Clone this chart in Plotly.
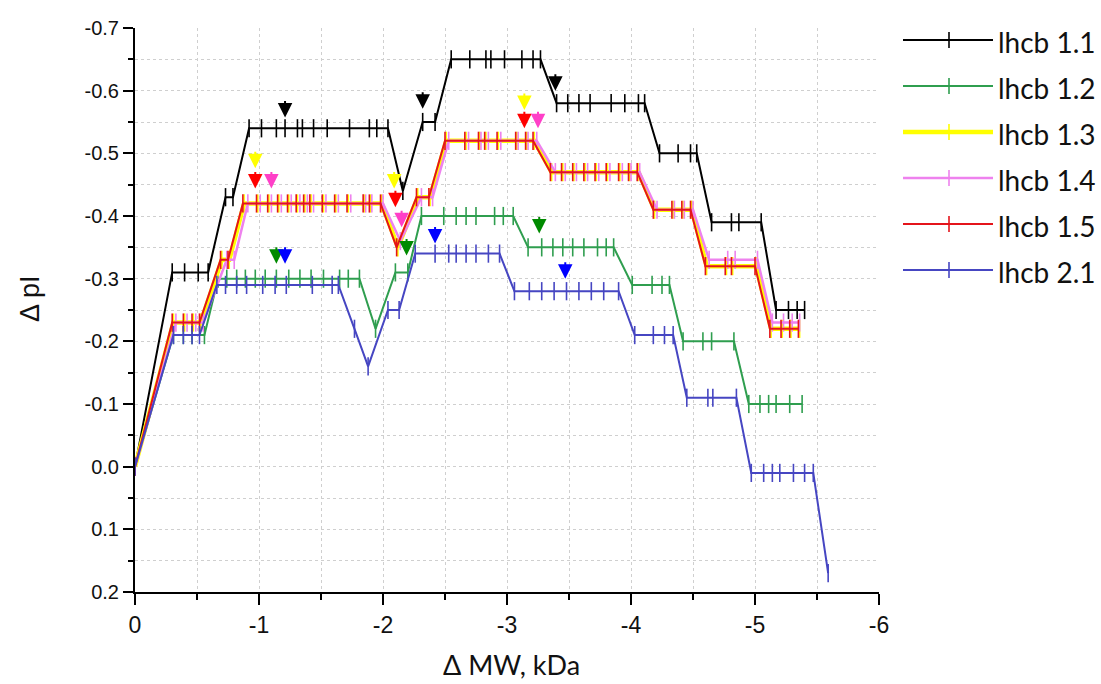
import plotly.graph_objects as go

# ---- series data: ΔMW (kDa) vs ΔpI ----
names = ["lhcb 1.1", "lhcb 1.2", "lhcb 1.3", "lhcb 1.4", "lhcb 1.5", "lhcb 2.1"]

x_11 = [0, -0.30, -0.40, -0.51, -0.59, -0.73, -0.79, -0.92, -1.02, -1.14, -1.21, -1.31, -1.35,
        -1.44, -1.55, -1.73, -1.89, -1.95, -2.04, -2.16, -2.32, -2.42, -2.55, -2.70, -2.83,
        -2.87, -2.98, -3.12, -3.21, -3.27, -3.40, -3.49, -3.58, -3.67, -3.84, -3.95, -4.06,
        -4.11, -4.23, -4.38, -4.48, -4.53, -4.65, -4.81, -4.87, -5.05, -5.17, -5.27, -5.34, -5.40]
y_11 = [0, -0.31, -0.31, -0.31, -0.31, -0.43, -0.43, -0.54, -0.54, -0.54, -0.54, -0.54, -0.54,
        -0.54, -0.54, -0.54, -0.54, -0.54, -0.54, -0.44, -0.55, -0.55, -0.65, -0.65, -0.65,
        -0.65, -0.65, -0.65, -0.65, -0.65, -0.58, -0.58, -0.58, -0.58, -0.58, -0.58, -0.58,
        -0.58, -0.50, -0.50, -0.50, -0.50, -0.39, -0.39, -0.39, -0.39, -0.25, -0.25, -0.25, -0.25]

x_12 = [0, -0.31, -0.39, -0.46, -0.56, -0.67, -0.74, -0.82, -0.89, -0.97, -1.05, -1.14, -1.24,
        -1.33, -1.42, -1.52, -1.65, -1.72, -1.81, -1.94, -2.10, -2.20, -2.31, -2.49, -2.59,
        -2.67, -2.75, -2.90, -2.97, -3.05, -3.17, -3.28, -3.37, -3.45, -3.53, -3.62, -3.73,
        -3.80, -3.86, -4.01, -4.17, -4.25, -4.31, -4.42, -4.58, -4.65, -4.83, -4.95, -5.04,
        -5.11, -5.17, -5.28, -5.38]
y_12 = [0, -0.21, -0.21, -0.21, -0.21, -0.30, -0.30, -0.30, -0.30, -0.30, -0.30, -0.30, -0.30,
        -0.30, -0.30, -0.30, -0.30, -0.30, -0.30, -0.22, -0.31, -0.31, -0.40, -0.40, -0.40,
        -0.40, -0.40, -0.40, -0.40, -0.40, -0.35, -0.35, -0.35, -0.35, -0.35, -0.35, -0.35,
        -0.35, -0.35, -0.29, -0.29, -0.29, -0.29, -0.20, -0.20, -0.20, -0.20, -0.10, -0.10,
        -0.10, -0.10, -0.10, -0.10]

x_13 = [0, -0.31, -0.40, -0.47, -0.53, -0.70, -0.76, -0.88, -0.99, -1.08, -1.16, -1.24, -1.31,
        -1.37, -1.42, -1.52, -1.62, -1.72, -1.85, -1.90, -1.99, -2.12, -2.28, -2.38, -2.51,
        -2.67, -2.78, -2.83, -2.93, -3.08, -3.16, -3.22, -3.36, -3.45, -3.54, -3.63, -3.72,
        -3.81, -3.91, -3.99, -4.06, -4.19, -4.34, -4.42, -4.49, -4.61, -4.77, -4.82, -5.01,
        -5.13, -5.22, -5.29, -5.36]
y_13 = [0, -0.23, -0.23, -0.23, -0.23, -0.33, -0.33, -0.42, -0.42, -0.42, -0.42, -0.42, -0.42,
        -0.42, -0.42, -0.42, -0.42, -0.42, -0.42, -0.42, -0.42, -0.35, -0.43, -0.43, -0.52,
        -0.52, -0.52, -0.52, -0.52, -0.52, -0.52, -0.52, -0.47, -0.47, -0.47, -0.47, -0.47,
        -0.47, -0.47, -0.47, -0.47, -0.41, -0.41, -0.41, -0.41, -0.32, -0.32, -0.32, -0.32,
        -0.22, -0.22, -0.22, -0.22]

x_14 = [0, -0.33, -0.42, -0.49, -0.55, -0.74, -0.80, -0.91, -1.01, -1.10, -1.18, -1.26, -1.33,
        -1.39, -1.44, -1.54, -1.64, -1.74, -1.86, -1.91, -2.00, -2.14, -2.31, -2.40, -2.53,
        -2.69, -2.79, -2.85, -2.95, -3.09, -3.17, -3.24, -3.39, -3.47, -3.56, -3.65, -3.74,
        -3.83, -3.93, -4.00, -4.07, -4.21, -4.35, -4.43, -4.50, -4.63, -4.78, -4.84, -5.02,
        -5.14, -5.23, -5.30, -5.36]
y_14 = [0, -0.23, -0.23, -0.23, -0.23, -0.33, -0.33, -0.42, -0.42, -0.42, -0.42, -0.42, -0.42,
        -0.42, -0.42, -0.42, -0.42, -0.42, -0.42, -0.42, -0.42, -0.36, -0.43, -0.43, -0.52,
        -0.52, -0.52, -0.52, -0.52, -0.52, -0.52, -0.52, -0.47, -0.47, -0.47, -0.47, -0.47,
        -0.47, -0.47, -0.47, -0.47, -0.41, -0.41, -0.41, -0.41, -0.33, -0.33, -0.33, -0.33,
        -0.23, -0.23, -0.23, -0.23]

x_15 = [0, -0.30, -0.39, -0.46, -0.52, -0.69, -0.75, -0.87, -0.98, -1.07, -1.15, -1.23, -1.30,
        -1.36, -1.41, -1.51, -1.61, -1.71, -1.84, -1.89, -1.98, -2.11, -2.27, -2.37, -2.50,
        -2.66, -2.77, -2.82, -2.92, -3.07, -3.15, -3.21, -3.35, -3.44, -3.53, -3.62, -3.71,
        -3.80, -3.90, -3.98, -4.05, -4.18, -4.33, -4.41, -4.48, -4.60, -4.76, -4.81, -5.00,
        -5.12, -5.21, -5.28, -5.35]
y_15 = [0, -0.23, -0.23, -0.23, -0.23, -0.33, -0.33, -0.42, -0.42, -0.42, -0.42, -0.42, -0.42,
        -0.42, -0.42, -0.42, -0.42, -0.42, -0.42, -0.42, -0.42, -0.35, -0.43, -0.43, -0.52,
        -0.52, -0.52, -0.52, -0.52, -0.52, -0.52, -0.52, -0.47, -0.47, -0.47, -0.47, -0.47,
        -0.47, -0.47, -0.47, -0.47, -0.41, -0.41, -0.41, -0.41, -0.32, -0.32, -0.32, -0.32,
        -0.22, -0.22, -0.22, -0.22]

x_21 = [0, -0.31, -0.39, -0.46, -0.52, -0.66, -0.73, -0.82, -0.90, -1.03, -1.13, -1.22, -1.43,
        -1.59, -1.64, -1.77, -1.88, -2.04, -2.13, -2.26, -2.42, -2.53, -2.59, -2.67, -2.75,
        -2.85, -2.94, -3.06, -3.18, -3.28, -3.38, -3.48, -3.58, -3.68, -3.78, -3.90, -4.03,
        -4.18, -4.27, -4.34, -4.45, -4.62, -4.66, -4.85, -4.97, -5.07, -5.14, -5.20, -5.31,
        -5.40, -5.47, -5.59]
y_21 = [0, -0.21, -0.21, -0.21, -0.21, -0.29, -0.29, -0.29, -0.29, -0.29, -0.29, -0.29, -0.29,
        -0.29, -0.29, -0.22, -0.16, -0.25, -0.25, -0.34, -0.34, -0.34, -0.34, -0.34, -0.34,
        -0.34, -0.34, -0.28, -0.28, -0.28, -0.28, -0.28, -0.28, -0.28, -0.28, -0.28, -0.21,
        -0.21, -0.21, -0.21, -0.11, -0.11, -0.11, -0.11, 0.01, 0.01, 0.01, 0.01, 0.01,
        0.01, 0.01, 0.17]

series_x = [x_11, x_12, x_13, x_14, x_15, x_21]
series_y = [y_11, y_12, y_13, y_14, y_15, y_21]
line_colors = ["#000000", "#2f9e4f", "#ffff00", "#ee82ee", "#e4141b", "#4646c2"]
line_widths = [2, 2, 4.5, 2.5, 2, 2]

# ---- marked positions (arrow tips), one group per series ----
arrow_x = {
    "lhcb 1.1": [-1.21, -2.32, -3.39],
    "lhcb 1.3": [-0.97, -2.09, -3.14],
    "lhcb 1.5": [-0.97, -2.10, -3.14],
    "lhcb 1.4": [-1.10, -2.15, -3.25],
    "lhcb 1.2": [-1.14, -2.19, -3.26],
    "lhcb 2.1": [-1.21, -2.42, -3.47],
}
arrow_y = {
    "lhcb 1.1": [-0.557, -0.571, -0.600],
    "lhcb 1.3": [-0.476, -0.444, -0.569],
    "lhcb 1.5": [-0.444, -0.414, -0.540],
    "lhcb 1.4": [-0.444, -0.382, -0.540],
    "lhcb 1.2": [-0.324, -0.337, -0.372],
    "lhcb 2.1": [-0.324, -0.356, -0.300],
}
arrow_colors = {
    "lhcb 1.1": "#000000",
    "lhcb 1.3": "#ffff00",
    "lhcb 1.5": "#ff0000",
    "lhcb 1.4": "#ff3fc8",
    "lhcb 1.2": "#008a00",
    "lhcb 2.1": "#0000ff",
}

x_tick_vals = [0, -1, -2, -3, -4, -5, -6]
x_tick_text = ["0", "-1", "-2", "-3", "-4", "-5", "-6"]
y_tick_vals = [-0.7, -0.6, -0.5, -0.4, -0.3, -0.2, -0.1, 0.0, 0.1, 0.2]
y_tick_text = ["-0.7", "-0.6", "-0.5", "-0.4", "-0.3", "-0.2", "-0.1", "0.0", "0.1", "0.2"]

fig = go.Figure()

for name, xs, ys, col, w in zip(names, series_x, series_y, line_colors, line_widths):
    fig.add_trace(go.Scatter(
        x=xs, y=ys, name=name, mode="lines+markers",
        line=dict(color=col, width=w),
        marker=dict(symbol="line-ns", size=13, line=dict(color=col, width=1.6)),
        showlegend=False, hoverinfo="skip",
    ))

annotations = []
for name in arrow_x:
    for ax_, ay_ in zip(arrow_x[name], arrow_y[name]):
        annotations.append(dict(
            x=ax_, y=ay_, xref="x", yref="y", text="", showarrow=True,
            ax=0, ay=-18, arrowhead=2, arrowsize=1.45, arrowwidth=2,
            arrowcolor=arrow_colors[name], standoff=0,
        ))

# plot area in pixels: x 135..879, y 28..592
L, R, T, B = 135, 222, 28, 92
W, H = 1101, 684
pw, ph = W - L - R, H - T - B

def px_x(p):
    return (p - L) / pw

def px_y(p):
    return (H - B - p) / ph

# custom legend: long line with a centred tick, label at right
legend_rows = [40, 86, 132, 178, 224, 270]
shapes = []
for name, col, w, row in zip(names, line_colors, line_widths, legend_rows):
    shapes.append(dict(type="line", xref="paper", yref="paper",
                       x0=px_x(903), x1=px_x(993), y0=px_y(row), y1=px_y(row),
                       line=dict(color=col, width=w)))
    shapes.append(dict(type="line", xref="paper", yref="paper",
                       x0=px_x(949), x1=px_x(949), y0=px_y(row - 8), y1=px_y(row + 8),
                       line=dict(color=col, width=1.6)))
    annotations.append(dict(x=px_x(996), y=px_y(row + 2), xref="paper", yref="paper",
                            text=name, showarrow=False, xanchor="left", yanchor="middle",
                            font=dict(family="Lato, Open Sans, sans-serif", size=28, color="#111")))

# axis titles
annotations.append(dict(x=px_x(30), y=px_y(298), xref="paper", yref="paper", text="Δ pI",
                        showarrow=False, textangle=-90, xanchor="center", yanchor="middle",
                        font=dict(family="Liberation Sans, Arial", size=27, color="#111")))
annotations.append(dict(x=px_x(511), y=px_y(664), xref="paper", yref="paper", text="Δ MW, kDa",
                        showarrow=False, xanchor="center", yanchor="middle",
                        font=dict(family="Lato, Open Sans, sans-serif", size=27, color="#111")))

grid_col = "#cfcfcf"
fig.update_layout(
    width=W, height=H,
    margin=dict(l=L, r=R, t=T, b=B, pad=0),
    paper_bgcolor="white", plot_bgcolor="white",
    shapes=shapes, annotations=annotations,
    xaxis=dict(
        range=[0, -6], tickvals=x_tick_vals, ticktext=x_tick_text,
        ticks="outside", ticklen=11, tickwidth=2, tickcolor="black",
        showline=True, linecolor="black", linewidth=2,
        showgrid=True, gridcolor=grid_col, griddash="dot", gridwidth=1,
        zeroline=False,
        tickfont=dict(family="Liberation Sans Narrow, Liberation Sans, Arial", size=23, color="#111"),
        minor=dict(dtick=0.5, tick0=0, ticks="outside", ticklen=6, tickwidth=2,
                   tickcolor="black", showgrid=True, gridcolor=grid_col, griddash="dot", gridwidth=1),
    ),
    yaxis=dict(
        range=[0.2, -0.7], tickvals=y_tick_vals, ticktext=y_tick_text,
        ticks="outside", ticklen=10, tickwidth=2, tickcolor="black",
        showline=True, linecolor="black", linewidth=2,
        showgrid=True, gridcolor=grid_col, griddash="dot", gridwidth=1,
        zeroline=False,
        tickfont=dict(family="Liberation Sans, Arial", size=20, color="#111"),
        minor=dict(dtick=0.05, tick0=0, ticks="outside", ticklen=5, tickwidth=2,
                   tickcolor="black", showgrid=True, gridcolor=grid_col, griddash="dot", gridwidth=1),
    ),
)

fig.write_html("out.html")
